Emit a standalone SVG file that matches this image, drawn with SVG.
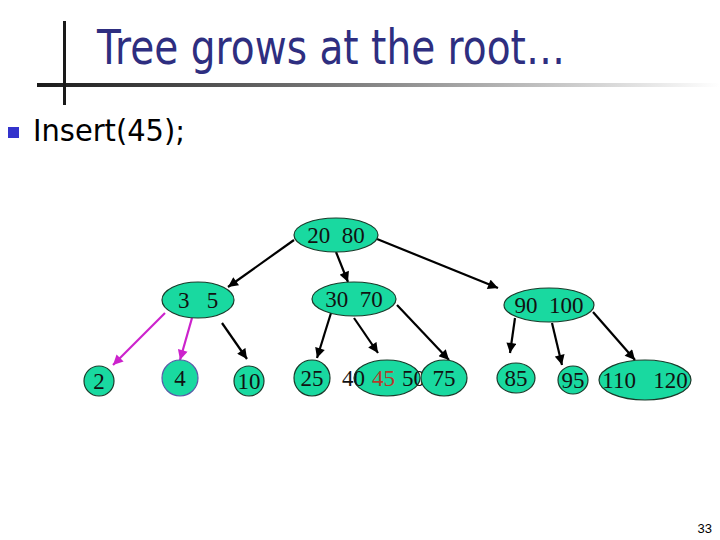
<svg xmlns="http://www.w3.org/2000/svg" width="720" height="540" viewBox="0 0 720 540">
<defs>
<linearGradient id="bar" x1="0" y1="0" x2="1" y2="0">
<stop offset="0" stop-color="#1a1a1a"/>
<stop offset="0.5" stop-color="#888"/>
<stop offset="1" stop-color="#fff"/>
</linearGradient>
<marker id="ah" viewBox="0 0 10 10" refX="10" refY="5" markerWidth="11" markerHeight="10" markerUnits="userSpaceOnUse" orient="auto">
<path d="M0,0 L10,5 L0,10 z" fill="#000"/>
</marker>
<marker id="ahp" viewBox="0 0 10 10" refX="10" refY="5" markerWidth="11" markerHeight="10" markerUnits="userSpaceOnUse" orient="auto">
<path d="M0,0 L10,5 L0,10 z" fill="#cc22cc"/>
</marker>
</defs>
<style>
.nd{fill:#19d9a0;stroke:#1a3a2a;stroke-width:1.2}
.t{font-family:"Liberation Serif","Times New Roman",serif;font-size:23px;fill:#111}
.e{stroke:#000;stroke-width:2.2;fill:none;marker-end:url(#ah)}
.p{stroke:#cc22cc;stroke-width:2.2;fill:none;marker-end:url(#ahp)}
</style>
<rect width="720" height="540" fill="#fff"/>
<g id="title">
<rect x="37" y="83" width="683" height="4" fill="url(#bar)"/>
<rect x="63" y="21" width="3" height="84" fill="#1a1a1a"/>
<text x="97" y="64" font-family="'DejaVu Sans',Verdana,sans-serif" font-size="48" fill="#2e2e80" textLength="468" lengthAdjust="spacingAndGlyphs">Tree grows at the root…</text>
</g>
<g id="bullet">
<rect x="8" y="127" width="11" height="11" fill="#3333cc"/>
<text x="33" y="141" font-family="'DejaVu Sans',Verdana,sans-serif" font-size="31" fill="#000" textLength="152" lengthAdjust="spacingAndGlyphs">Insert(45);</text>
</g>
<g id="connectors">
<line class="e" x1="294" y1="240" x2="228" y2="287"/>
<line class="e" x1="336" y1="252" x2="348" y2="282"/>
<line class="e" x1="377" y1="239" x2="498" y2="288"/>
<line class="p" x1="165" y1="313" x2="113" y2="365"/>
<line class="p" x1="192" y1="318" x2="180" y2="360"/>
<line class="e" x1="222" y1="323" x2="247" y2="359"/>
<line class="e" x1="331" y1="313" x2="317" y2="358"/>
<line class="e" x1="354" y1="318" x2="378" y2="353"/>
<line class="e" x1="397" y1="305" x2="449" y2="360"/>
<line class="e" x1="515" y1="318" x2="510" y2="353"/>
<line class="e" x1="552" y1="323" x2="562" y2="365"/>
<line class="e" x1="593" y1="312" x2="635" y2="360"/>
</g>
<g id="n2080"><ellipse class="nd" cx="336" cy="235" rx="42" ry="17"/><text class="t" x="336" y="243" text-anchor="middle" xml:space="preserve">20  80</text></g>
<g id="n35"><ellipse class="nd" cx="198" cy="300" rx="36" ry="18"/><text class="t" x="198" y="308" text-anchor="middle" xml:space="preserve">3   5</text></g>
<g id="n3070"><ellipse class="nd" cx="354" cy="299" rx="42" ry="17"/><text class="t" x="354" y="307" text-anchor="middle" xml:space="preserve">30  70</text></g>
<g id="n90100"><ellipse class="nd" cx="549" cy="305" rx="45" ry="17"/><text class="t" x="549" y="313" text-anchor="middle" xml:space="preserve">90  100</text></g>
<g id="n2"><ellipse class="nd" cx="99" cy="381" rx="15" ry="15"/><text class="t" x="99" y="389" text-anchor="middle">2</text></g>
<g id="n4"><ellipse class="nd" cx="180" cy="378" rx="18" ry="18" style="stroke:#5a5aa8"/><text class="t" x="180" y="386" text-anchor="middle">4</text></g>
<g id="n10"><ellipse class="nd" cx="249" cy="381" rx="15" ry="15"/><text class="t" x="249" y="389" text-anchor="middle">10</text></g>
<g id="n25"><ellipse class="nd" cx="312" cy="378" rx="18" ry="18"/><text class="t" x="312" y="386" text-anchor="middle">25</text></g>
<g id="n45">
<ellipse class="nd" cx="387" cy="378" rx="33" ry="18"/>
<text class="t" y="386"><tspan x="342">40</tspan><tspan x="372" fill="#b83a2a">45</tspan><tspan x="402">50</tspan></text>
</g>
<g id="n75"><ellipse class="nd" cx="444" cy="378" rx="23" ry="18"/><text class="t" x="444" y="386" text-anchor="middle">75</text></g>
<g id="n85"><ellipse class="nd" cx="516" cy="378" rx="19" ry="15"/><text class="t" x="516" y="386" text-anchor="middle">85</text></g>
<g id="n95"><ellipse class="nd" cx="573" cy="380" rx="15" ry="14"/><text class="t" x="573" y="388" text-anchor="middle">95</text></g>
<g id="n110120"><ellipse class="nd" cx="645" cy="380" rx="46" ry="20"/><text class="t" x="645" y="388" text-anchor="middle" xml:space="preserve">110   120</text></g>
<text x="712" y="533" text-anchor="end" font-family="'Liberation Sans',Arial,sans-serif" font-size="13" fill="#000">33</text>
</svg>
